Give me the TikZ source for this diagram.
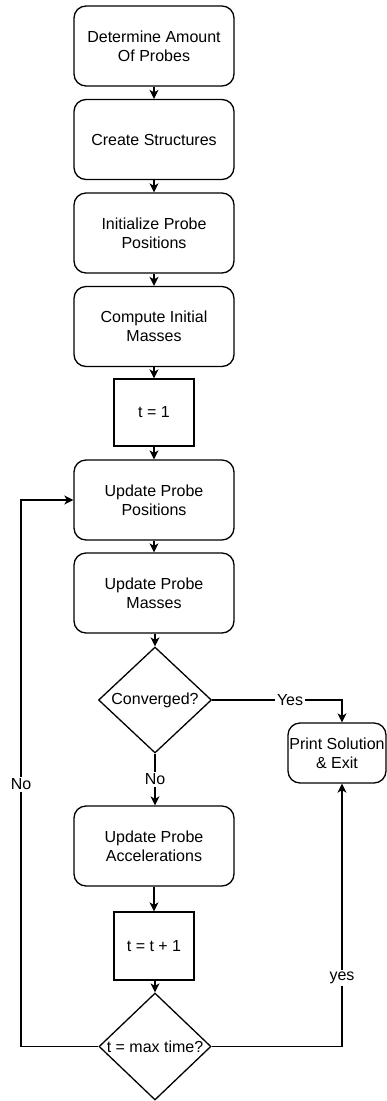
\documentclass[tikz,border=0pt]{standalone}
\usepackage{fontspec}
\setmainfont{Liberation Sans}
\usetikzlibrary{arrows.meta,shapes.geometric}
\begin{document}
\begin{tikzpicture}[x=1pt,y=-1pt,
  every node/.style={font=\fontsize{16}{19}\selectfont},
  proc/.style={draw,line width=1.3pt,rounded corners=12pt,minimum width=160pt,minimum height=80pt,align=center,inner sep=0pt},
  sq/.style={draw,line width=1.3pt,minimum width=80pt,minimum height=67pt,align=center,inner sep=0pt},
  dec/.style={draw,line width=1.3pt,diamond,minimum width=113pt,minimum height=106pt,inner sep=0pt},
  arr/.style={line width=1.3pt,-{Stealth[length=9pt,width=9pt,inset=2.5pt]}},
  lbl/.style={fill=white,inner sep=2pt}]
\useasboundingbox (0,0) rectangle (387,1101);
\node[proc] (b1) at (154,46) {Determine Amount\\Of Probes};
\node[proc] (b2) at (154,139.5) {Create Structures};
\node[proc] (b3) at (154,233) {Initialize Probe\\Positions};
\node[proc] (b4) at (154,326.5) {Compute Initial\\Masses};
\node[sq] (t1) at (154,412.5) {t = 1};
\node[proc] (b5) at (154,500) {Update Probe\\Positions};
\node[proc] (b6) at (154,593) {Update Probe\\Masses};
\node[dec] (d1) at (155,700) {};
\node at (d1.center) {Converged?};
\node[proc,minimum width=98pt,minimum height=60pt] (ps) at (337,753) {Print Solution\\\& Exit};
\node[proc] (b7) at (154,846) {Update Probe\\Accelerations};
\node[sq,minimum height=68pt] (t2) at (154,946) {t = t + 1};
\node[dec,minimum width=112pt,minimum height=107pt] (d2) at (155,1046.5) {};
\node at (d2.center) {t = max time?};
\coordinate (yc) at (342,700);
\coordinate (yb) at (342,1046.5);
\coordinate (lb) at (21,1046.5);
\coordinate (lt) at (21,500);
\draw[arr] (b1) -- (b2);
\draw[arr] (b2) -- (b3);
\draw[arr] (b3) -- (b4);
\draw[arr] (b4) -- (t1);
\draw[arr] (t1) -- (b5);
\draw[arr] (b5) -- (b6);
\draw[arr] (b6.south -| d1.north) -- (d1.north);
\draw[arr] (d1.east) -- node[lbl,pos=0.6]{Yes} (yc) -- (yc |- ps.north);
\draw[arr] (d1.south) -- node[lbl]{No} (b7.north -| d1.south);
\draw[arr] (b7) -- (t2);
\draw[arr] (t2.south -| d2.north) -- (d2.north);
\draw[arr] (d2.west) -- (lb) -- node[lbl,pos=0.48]{No} (lt) -- (b5.west);
\draw[arr] (d2.east) -- (yb) -- node[lbl,pos=0.26]{yes} (yb |- ps.south);
\end{tikzpicture}
\end{document}
